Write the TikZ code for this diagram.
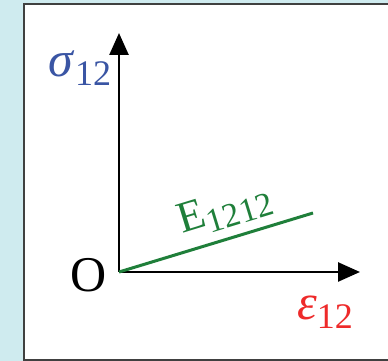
\documentclass[tikz,border=0pt]{standalone}
\usepackage{fontspec}
\setmainfont{Liberation Serif}
\usepackage{xcolor}
\usepackage{tikz}
\usetikzlibrary{arrows.meta,positioning}
\definecolor{panelbg}{HTML}{CFEBEF}
\definecolor{frame}{HTML}{404040}
\definecolor{stressblue}{HTML}{3A55A4}
\definecolor{strainred}{HTML}{EE2A2A}
\definecolor{modgreen}{HTML}{1F7F3A}
\tikzset{
  axis/.style={-{Triangle[length=22pt, width=19pt]}, line width=2.6pt, draw=black},
  slope/.style={line width=3pt, draw=modgreen},
  lbl/.style={inner sep=0pt, font=\fontsize{50}{50}\selectfont},
}

\begin{document}
\begin{tikzpicture}[x=1pt, y=1pt]
  \useasboundingbox (0,0) rectangle (388,361);
  \fill[panelbg] (0,0) rectangle (388,361);
  \draw[frame, line width=1.6pt, fill=white] (24,1) rectangle (396,357);
  % axes and modulus line
  \coordinate (orig) at (119,89);
  \coordinate (ytip) at (119,328);
  \coordinate (xtip) at (360,89);
  \coordinate (gend) at (313,148);
  \draw[axis] (orig) -- (ytip);
  \draw[axis] (orig) -- (xtip);
  \draw[slope] (orig) -- (gend);
  % labels
  \node[lbl] (olbl) at (89,86) {O};
  \node[lbl, text=stressblue] (sig) at (80,293) {\textit{σ}\raisebox{-9pt}{\fontsize{36}{36}\selectfont 12}};
  \node[lbl, text=strainred] (eps) at (325,49) {\textit{ε}\raisebox{-9pt}{\fontsize{36}{36}\selectfont 12}};
  \node[lbl, text=modgreen, rotate=17, font=\fontsize{44}{44}\selectfont] (mod) at (225,151) {E\raisebox{-8pt}{\fontsize{34}{34}\selectfont 1212}};
\end{tikzpicture}
\end{document}
